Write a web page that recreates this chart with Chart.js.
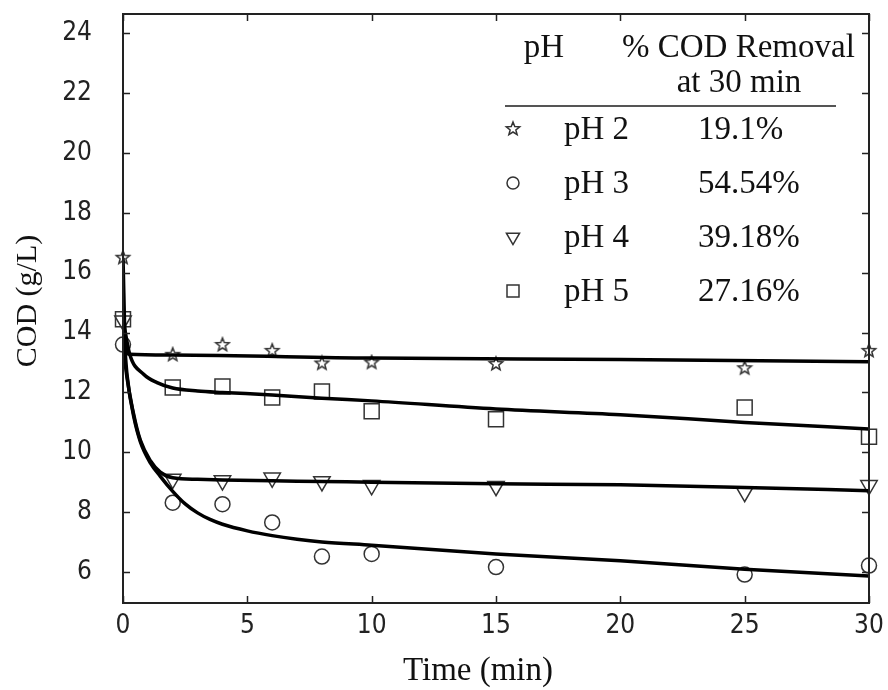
<!DOCTYPE html>
<html>
<head>
<meta charset="utf-8">
<script src="https://cdn.jsdelivr.net/npm/chart.js@4.4.1/dist/chart.umd.min.js"></script>
<style>
  html, body { margin: 0; padding: 0; background: #fff; }
  #wrap { width: 888px; height: 690px; }
</style>
</head>
<body>
<div id="wrap"><canvas id="chart"></canvas></div>
<script>
// measured COD values (g/L)
const timeMin = [0, 2, 4, 6, 8, 10, 15, 25, 30];
const codPH2 = [16.5, 13.26, 13.59, 13.39, 12.97, 13.0, 12.95, 12.81, 13.39];
const codPH3 = [13.6, 8.32, 8.27, 7.66, 6.52, 6.61, 6.17, 5.92, 6.22];
const codPH4 = [14.4, 9.11, 9.06, 9.15, 9.03, 8.9, 8.87, 8.67, 8.9];
const codPH5 = [14.45, 12.17, 12.2, 11.83, 12.03, 11.37, 11.11, 11.5, 10.52];

// fitted curves
const fitTimePH2 = [0, 0.1, 0.25, 2, 10, 20, 30];
const fitPH2 = [16.5, 13.5, 13.28, 13.25, 13.15, 13.1, 13.03];
const fitTimePH3 = [0, 0.16, 0.43, 0.7, 1.1, 1.5, 2, 2.5, 3, 3.5, 4, 5, 6, 7, 8, 10, 15, 20, 25, 30];
const fitPH3 = [13.6, 12.5, 11.2, 10.35, 9.65, 9.2, 8.7, 8.28, 7.98, 7.76, 7.6, 7.38, 7.22, 7.1, 7.01, 6.9, 6.61, 6.38, 6.1, 5.87];
const fitTimePH4 = [0, 0.16, 0.43, 0.7, 1.1, 1.5, 2, 3, 4, 6, 8, 10, 15, 20, 25, 30];
const fitPH4 = [14.4, 12.6, 11.27, 10.4, 9.72, 9.34, 9.15, 9.1, 9.08, 9.05, 9.03, 9.0, 8.95, 8.92, 8.83, 8.72];
const fitTimePH5 = [0, 0.27, 0.83, 1.37, 2, 3, 4, 6, 8, 10, 15, 20, 25, 30];
const fitPH5 = [14.45, 13.28, 12.61, 12.33, 12.15, 12.05, 12.0, 11.92, 11.81, 11.72, 11.45, 11.26, 11.0, 10.78];

const seriesNames = ['pH 2', 'pH 3', 'pH 4', 'pH 5'];
const removalLabels = ['19.1%', '54.54%', '39.18%', '27.16%'];
const headerLabels = ['pH', '% COD Removal', 'at 30 min'];
const xTitle = 'Time (min)';
const yTitle = 'COD (g/L)';

const ink = '#333';
const serif = '"Liberation Serif", "Times New Roman", serif';
const tickFont = '"DejaVu Sans Condensed", "Liberation Sans Narrow", "Liberation Sans", sans-serif';

// five point outline star for pH 2
function makeStar(outer, inner) {
    const s = Math.ceil(outer * 2 + 4);
    const c = document.createElement('canvas');
    c.width = s; c.height = s;
    const g = c.getContext('2d');
    g.strokeStyle = ink;
    g.lineWidth = 1.5;
    g.beginPath();
    for (let i = 0; i < 10; i++) {
        const r = i % 2 ? inner : outer;
        const a = -Math.PI / 2 + i * Math.PI / 5;
        const px = s / 2 + r * Math.cos(a), py = s / 2 + r * Math.sin(a);
        if (i) g.lineTo(px, py); else g.moveTo(px, py);
    }
    g.closePath();
    g.stroke();
    return c;
}
const starImg = makeStar(7, 3);

const markers = [
    { pointStyle: starImg, radius: 7, rotation: 0 },
    { pointStyle: 'circle', radius: 7.5, rotation: 0 },
    { pointStyle: 'triangle', radius: 9.5, rotation: 180 },
    { pointStyle: 'rect', radius: 10.6, rotation: 0 }
];

const measured = [codPH2, codPH3, codPH4, codPH5];
const fits = [[fitTimePH2, fitPH2], [fitTimePH3, fitPH3], [fitTimePH4, fitPH4], [fitTimePH5, fitPH5]];

const datasets = [];
fits.forEach((f, i) => {
    datasets.push({
        label: seriesNames[i] + ' fit',
        data: f[0].map((t, k) => ({ x: t, y: f[1][k] })),
        showLine: true,
        borderColor: '#000',
        borderWidth: 3.5,
        pointRadius: 0,
        cubicInterpolationMode: 'monotone',
        fill: false
    });
});
measured.forEach((vals, i) => {
    datasets.push({
        label: seriesNames[i],
        data: timeMin.map((t, k) => ({ x: t, y: vals[k] })),
        showLine: false,
        pointStyle: markers[i].pointStyle,
        pointRadius: markers[i].radius,
        pointRotation: markers[i].rotation,
        pointBorderColor: ink,
        pointBackgroundColor: 'rgba(0,0,0,0)',
        pointBorderWidth: 1.5,
        clip: false
    });
});

// frame, inward ticks, axis titles and the table legend
const framePlugin = {
    id: 'frame',
    afterDraw(chart) {
        const ctx = chart.ctx;
        const a = chart.chartArea;
        const xs = chart.scales.x, ys = chart.scales.y;
        const tl = 7;
        ctx.save();
        ctx.strokeStyle = '#222';
        ctx.lineWidth = 2;
        ctx.strokeRect(a.left, a.top, a.right - a.left, a.bottom - a.top);
        ctx.lineWidth = 1.5;
        ctx.beginPath();
        xs.ticks.forEach(t => {
            const px = Math.round(xs.getPixelForValue(t.value)) + 0.5;
            ctx.moveTo(px, a.bottom); ctx.lineTo(px, a.bottom - tl);
            ctx.moveTo(px, a.top); ctx.lineTo(px, a.top + tl);
        });
        ys.ticks.forEach(t => {
            const py = Math.round(ys.getPixelForValue(t.value)) + 0.5;
            ctx.moveTo(a.left, py); ctx.lineTo(a.left + tl, py);
            ctx.moveTo(a.right, py); ctx.lineTo(a.right - tl, py);
        });
        ctx.stroke();

        // axis titles
        ctx.fillStyle = '#111';
        ctx.textAlign = 'center';
        ctx.textBaseline = 'middle';
        ctx.font = '33px ' + serif;
        ctx.fillText(xTitle, 478, 671);
        ctx.save();
        ctx.translate(28, 301);
        ctx.rotate(-Math.PI / 2);
        ctx.font = '30px ' + serif;
        ctx.fillText(yTitle, 0, 0);
        ctx.restore();

        // legend table
        ctx.font = '33px ' + serif;
        ctx.textBaseline = 'alphabetic';
        ctx.textAlign = 'center';
        ctx.fillText(headerLabels[0], 544, 57);
        ctx.textAlign = 'left';
        ctx.fillText(headerLabels[1], 622, 57);
        ctx.textAlign = 'center';
        ctx.fillText(headerLabels[2], 739, 92);
        ctx.strokeStyle = '#555';
        ctx.lineWidth = 2;
        ctx.beginPath();
        ctx.moveTo(505, 106); ctx.lineTo(836, 106);
        ctx.stroke();

        const rowY = [129, 183, 237, 291];
        seriesNames.forEach((name, i) => {
            ctx.strokeStyle = ink;
            ctx.fillStyle = 'rgba(0,0,0,0)';
            ctx.lineWidth = 1.5;
            Chart.helpers.drawPoint(ctx, {
                pointStyle: markers[i].pointStyle,
                radius: markers[i].radius * 0.8,
                rotation: markers[i].rotation,
                borderWidth: 1.5
            }, 513, rowY[i]);
            ctx.fillStyle = '#111';
            ctx.textAlign = 'left';
            ctx.fillText(name, 564, rowY[i] + 10);
            ctx.fillText(removalLabels[i], 698, rowY[i] + 10);
        });
        ctx.restore();
    }
};

new Chart(document.getElementById('chart'), {
    type: 'scatter',
    data: { datasets: datasets },
    options: {
        responsive: true,
        maintainAspectRatio: false,
        animation: false,
        layout: { padding: { top: 14, right: 19, left: 0, bottom: 0 } },
        plugins: {
            legend: { display: false },
            tooltip: { enabled: false }
        },
        scales: {
            x: {
                type: 'linear',
                min: 0,
                max: 30,
                grid: { display: false, drawTicks: false },
                border: { display: false },
                ticks: {
                    stepSize: 5,
                    padding: 8,
                    color: '#222',
                    font: { family: tickFont, size: 26 }
                },
                afterFit(scale) {
                    scale.height = 87;
                    scale.paddingLeft = 0;
                    scale.paddingRight = 0;
                }
            },
            y: {
                type: 'linear',
                min: 4.97,
                max: 24.64,
                grid: { display: false, drawTicks: false },
                border: { display: false },
                ticks: {
                    stepSize: 2,
                    includeBounds: false,
                    padding: 31,
                    color: '#222',
                    font: { family: tickFont, size: 26 }
                },
                afterFit(scale) {
                    scale.width = 123;
                    scale.paddingTop = 0;
                    scale.paddingBottom = 0;
                }
            }
        }
    },
    plugins: [framePlugin]
});
</script>
</body>
</html>
